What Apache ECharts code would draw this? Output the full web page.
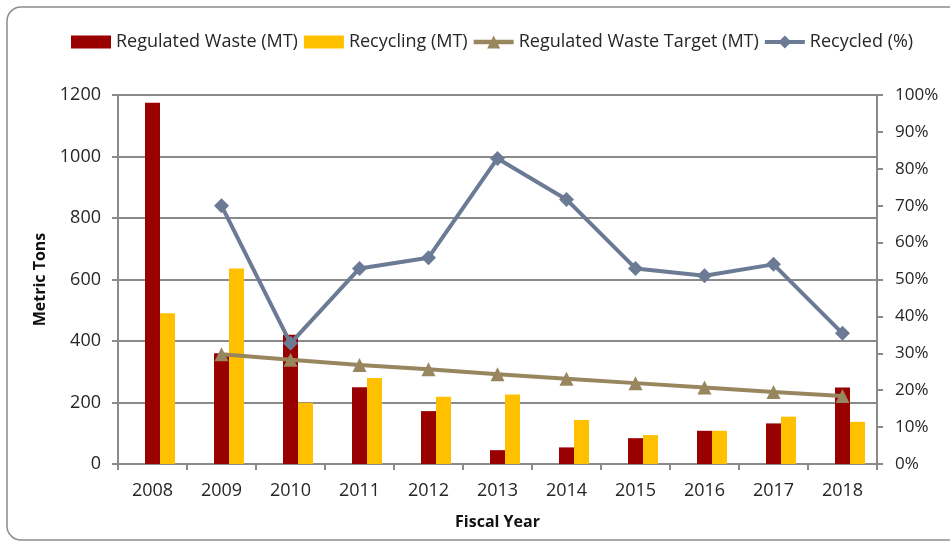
<!DOCTYPE html>
<html>
<head>
<meta charset="utf-8">
<script src="https://cdn.jsdelivr.net/npm/echarts@6/dist/echarts.min.js"></script>
<style>
html, body { margin: 0; padding: 0; background: #fff; }
#chart { width: 950px; height: 546px; }
</style>
</head>
<body>
<div id="chart"></div>
<script>
var years = ['2008', '2009', '2010', '2011', '2012', '2013', '2014', '2015', '2016', '2017', '2018'];
var regulatedWaste = [1175, 360, 420, 250, 172, 45, 54, 84, 108, 132, 249];
var recycling = [490, 636, 199, 280, 219, 226, 143, 94, 108, 154, 137];
var wasteTarget = [null, 357, 339, 322, 308, 292, 277, 263, 249, 234, 221];
var recycledPct = [null, 70, 32.7, 53, 55.9, 82.8, 71.7, 53, 51, 54.1, 35.4];
// empty slot Excel leaves in each bar group
var spacer = years.map(function () { return null; });

var font = '"Open Sans", sans-serif';
var gray = '#8a8a8a';
var txt = '#262626';
// thick line + marker legend icons, like Excel's
var triIcon = 'path://M0,4.5H40V8.5H0Z M20,0.5L26.5,12.5H13.5Z';
var diaIcon = 'path://M0,4.5H40V8.5H0Z M20,0L26.5,6.5L20,13L13.5,6.5Z';

var myChart = echarts.init(document.getElementById('chart'));
myChart.setOption({
	animation : false,
	textStyle : { fontFamily : font },
	graphic : [ {
		type : 'rect',
		shape : { x : 7, y : 7, width : 980, height : 533, r : 14 },
		style : { fill : 'none', stroke : '#8c8c8c', lineWidth : 1.5 }
	} ],
	legend : {
		top : 28,
		left : 66,
		itemWidth : 40,
		itemHeight : 13,
		itemGap : 6,
		symbolKeepAspect : false,
		textStyle : { fontSize : 18, color : txt, fontFamily : font },
		data : [
			{ name : 'Regulated Waste (MT)', icon : 'rect' },
			{ name : 'Recycling (MT)', icon : 'rect' },
			{ name : 'Regulated Waste Target (MT)', icon : triIcon },
			{ name : 'Recycled (%)', icon : diaIcon }
		]
	},
	grid : { left : 118, right : 73, top : 95, bottom : 82 },
	xAxis : [ {
		type : 'category',
		data : years,
		name : 'Fiscal Year',
		nameLocation : 'middle',
		nameGap : 50,
		nameTextStyle : { fontSize : 16, fontWeight : 'bold', color : '#111', fontFamily : font },
		axisLine : { lineStyle : { color : gray, width : 2 } },
		axisTick : { show : true, length : 6, lineStyle : { color : gray, width : 2 } },
		axisLabel : { fontSize : 18, color : txt, margin : 18 }
	} ],
	yAxis : [ {
		type : 'value',
		min : 0,
		max : 1200,
		interval : 200,
		name : 'Metric Tons',
		nameLocation : 'middle',
		nameRotate : 90,
		nameGap : 65,
		nameTextStyle : { fontSize : 16, fontWeight : 'bold', color : '#111', fontFamily : font },
		axisLine : { show : true, lineStyle : { color : gray, width : 2 } },
		axisTick : { show : true, length : 6, lineStyle : { color : gray, width : 2 } },
		axisLabel : { fontSize : 18, color : txt, margin : 17,
			formatter : function (v) { return String(v); } },
		splitLine : { lineStyle : { color : gray, width : 2 } }
	}, {
		type : 'value',
		min : 0,
		max : 100,
		interval : 10,
		position : 'right',
		axisLine : { show : true, lineStyle : { color : gray, width : 2 } },
		axisTick : { show : true, length : 6, lineStyle : { color : gray, width : 2 } },
		axisLabel : { fontSize : 17, color : txt, margin : 18,
			formatter : function (v) { return v + '%'; } },
		splitLine : { show : false }
	} ],
	series : [ {
		name : 'spacer',
		type : 'bar',
		barWidth : 15,
		barGap : '0%',
		data : spacer
	}, {
		name : 'Regulated Waste (MT)',
		type : 'bar',
		barWidth : 15,
		barGap : '0%',
		itemStyle : { color : '#990000' },
		data : regulatedWaste
	}, {
		name : 'Recycling (MT)',
		type : 'bar',
		barWidth : 15,
		barGap : '0%',
		itemStyle : { color : '#FFC000' },
		data : recycling
	}, {
		name : 'Regulated Waste Target (MT)',
		type : 'line',
		symbol : 'triangle',
		symbolSize : 14,
		lineStyle : { color : '#98865F', width : 4 },
		itemStyle : { color : '#98865F' },
		data : wasteTarget
	}, {
		name : 'Recycled (%)',
		type : 'line',
		yAxisIndex : 1,
		symbol : 'diamond',
		symbolSize : 15,
		lineStyle : { color : '#6B7A95', width : 4 },
		itemStyle : { color : '#6B7A95' },
		data : recycledPct
	} ]
});
</script>
</body>
</html>
